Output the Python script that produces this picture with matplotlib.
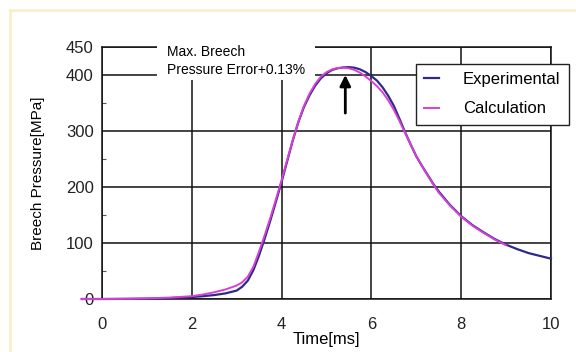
import matplotlib
matplotlib.use('Agg')
import matplotlib.pyplot as plt
from matplotlib.patches import Rectangle
from matplotlib.lines import Line2D

plt.rcParams['font.family'] = ['Liberation Sans', 'DejaVu Sans']

# ── Data ──────────────────────────────────────────────────────
exp_t = [-0.45, 0, 0.5, 1, 1.5, 2, 2.25, 2.5, 2.75, 3, 3.125, 3.25, 3.375,
         3.5, 3.625, 3.75, 3.875, 4, 4.125, 4.25, 4.375, 4.5, 4.625, 4.75,
         4.875, 5, 5.125, 5.25, 5.375, 5.5, 5.625, 5.75, 5.875, 6, 6.125,
         6.25, 6.375, 6.5, 6.625, 6.75, 6.875, 7, 7.125, 7.25, 7.375, 7.5,
         7.75, 8, 8.25, 8.5, 8.75, 9, 9.25, 9.5, 9.75, 10]
exp_p = [0, 0, 0.2, 0.6, 1.5, 3.5, 5, 7, 10, 15, 22, 33, 52,
         78, 108, 140, 174, 209, 246, 283, 316, 343, 364, 381,
         394, 403, 409, 412, 413.5, 414, 413, 410, 405, 398, 390,
         378, 363, 345, 322, 298, 276, 255, 238, 222, 206, 192,
         168, 148, 132, 119, 107, 97, 89, 82, 77, 72]

calc_t = [-0.45, 0, 0.5, 1, 1.5, 2, 2.25, 2.5, 2.75, 3, 3.125, 3.25, 3.375,
          3.5, 3.625, 3.75, 3.875, 4, 4.125, 4.25, 4.375, 4.5, 4.625, 4.75,
          4.875, 5, 5.125, 5.25, 5.375, 5.5, 5.625, 5.75, 5.875, 6, 6.125,
          6.25, 6.375, 6.5, 6.625, 6.75, 6.875, 7, 7.125, 7.25, 7.375, 7.5,
          7.75, 8, 8.25, 8.5, 8.75, 9]
calc_p = [0, 0, 0.3, 1, 2.5, 5, 8, 12, 17, 24, 30, 40, 58,
          85, 114, 145, 178, 212, 248, 284, 317, 345, 367, 384,
          397, 405, 410, 412.5, 413, 412, 409, 404, 397, 389, 380,
          369, 355, 338, 318, 297, 276, 255, 238, 221, 205, 190,
          167, 147, 131, 118, 106, 96]

x_ticks = [0, 2, 4, 6, 8, 10]
y_ticks = [0, 100, 200, 300, 400, 450]
y_minor = [50, 150, 250, 350]

EXP_C = '#2E2A85'
CALC_C = '#D83FD8'

# ── Plot ──────────────────────────────────────────────────────
fig = plt.figure(figsize=(5.76, 3.52), dpi=100, facecolor='white')
ax = fig.add_axes([0.177, 0.1506, 0.7795, 0.7159])

ax.plot(exp_t, exp_p, color=EXP_C, lw=1.6, clip_on=False, zorder=3,
        label='Experimental')
ax.plot(calc_t, calc_p, color=CALC_C, lw=1.4, clip_on=False, zorder=3.1,
        label='Calculation')

ax.set_xlim(0, 10)
ax.set_ylim(0, 450)
ax.set_xticks(x_ticks)
ax.set_yticks(y_ticks)
ax.set_yticks(y_minor, minor=True)
ax.tick_params(axis='both', which='major', length=0, labelsize=12,
               colors='#222222')
ax.tick_params(axis='x', pad=13)
ax.tick_params(axis='y', pad=6)
ax.tick_params(axis='y', which='minor', direction='in', length=3,
               width=0.8, color='#555555')
ax.tick_params(axis='x', which='minor', length=0)
ax.grid(True, which='major', color='#111111', linewidth=1.1)
for s in ax.spines.values():
    s.set_color('#111111')
    s.set_linewidth(1.1)

ax.set_ylabel('Breech Pressure[MPa]', fontsize=11, labelpad=15)
ax.set_xlabel('Time[ms]', fontsize=12, labelpad=0)

# annotation with white backing that breaks the grid lines
ax.add_patch(Rectangle((1.22, 391), 3.52, 75, facecolor='white',
                       edgecolor='none', clip_on=False, zorder=2.7))
ax.text(1.45, 425, 'Max. Breech\nPressure Error+0.13%', fontsize=10,
        va='center', ha='left', linespacing=1.3, zorder=4)
ax.annotate('', xy=(5.42, 405), xytext=(5.42, 327),
            arrowprops=dict(arrowstyle='-|>', color='black', lw=2,
                            mutation_scale=16), zorder=4)

leg = ax.legend(loc='upper right', bbox_to_anchor=(1.04, 0.933),
                borderaxespad=0, fontsize=12, frameon=True, fancybox=False,
                edgecolor='#222222', framealpha=1, handlelength=0.9,
                handletextpad=1.45, labelspacing=0.85, borderpad=0.5)
leg.get_frame().set_linewidth(1.0)
leg.set_zorder(5)

# pale frame at the top and left of the picture
fig.add_artist(Line2D([10 / 576, 1], [1 - 10 / 352] * 2, color='#FBEFCB',
                      lw=2, transform=fig.transFigure))
fig.add_artist(Line2D([10 / 576] * 2, [0, 1 - 10 / 352], color='#FBEFCB',
                      lw=2, transform=fig.transFigure))

fig.savefig('out.png', dpi=100, facecolor='white')
